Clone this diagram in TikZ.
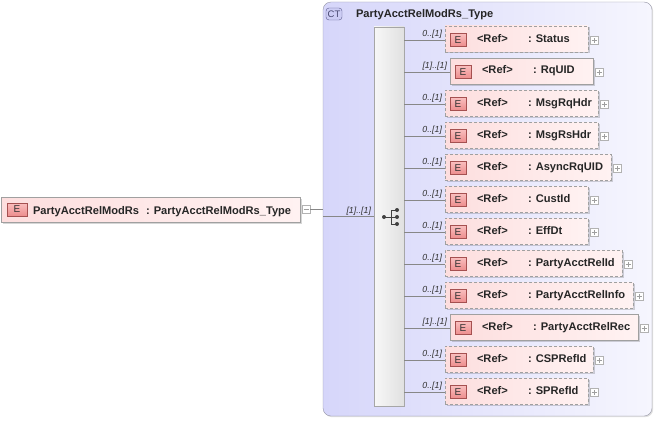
\documentclass[tikz,border=0pt]{standalone}
\usepackage{fontspec}
\setmainfont{Liberation Sans}
\usetikzlibrary{shadows}
\definecolor{ctfillL}{RGB}{214,214,250}
\definecolor{ctfillR}{RGB}{246,246,254}
\definecolor{ctborder}{RGB}{150,150,165}
\definecolor{epinkL}{RGB}{253,222,222}
\definecolor{epinkR}{RGB}{255,242,242}
\definecolor{eborder}{RGB}{160,160,160}
\definecolor{eiconT}{RGB}{250,190,190}
\definecolor{eiconB}{RGB}{236,140,140}
\definecolor{eiconborder}{RGB}{165,80,80}
\definecolor{lineclr}{RGB}{135,135,135}
\definecolor{cticonfill}{RGB}{205,205,245}
\definecolor{cticonborder}{RGB}{90,90,140}
\begin{document}
\begin{tikzpicture}[x={(1pt,0)}, y={(0,-1pt)},
  every node/.style={inner sep=0pt, outer sep=0pt},
  ebox/.style={draw=eborder, left color=epinkL, right color=epinkR,
    drop shadow={shadow xshift=1.5pt, shadow yshift=-1.5pt, fill=black, opacity=0.16}},
  optbox/.style={ebox, dash pattern=on 3pt off 2pt},
  reqbox/.style={ebox},
  eicon/.style={draw=eiconborder, top color=eiconT, bottom color=eiconB,
    font=\fontsize{10}{10}\selectfont, text=black!80},
  etxt/.style={font=\bfseries\fontsize{11.1}{12}\selectfont, text=black!85},
  lbl/.style={font=\itshape\fontsize{8.8}{9}\selectfont, text=black!80},
  conn/.style={draw=lineclr, line width=0.6pt},
  pbox/.style={draw=gray!60, fill=white, minimum size=8pt,
    path picture={\draw[gray!75, line width=0.5pt]
      ([xshift=-2.5pt]path picture bounding box.center) -- ([xshift=2.5pt]path picture bounding box.center)
      ([yshift=-2.5pt]path picture bounding box.center) -- ([yshift=2.5pt]path picture bounding box.center);}},
  mbox/.style={draw=gray!60, fill=white, minimum size=8pt,
    path picture={\draw[gray!75, line width=0.5pt]
      ([xshift=-2.5pt]path picture bounding box.center) -- ([xshift=2.5pt]path picture bounding box.center);}},
  seqbox/.style={draw=gray!70, left color=gray!6, right color=gray!24,
    drop shadow={shadow xshift=1.2pt, shadow yshift=-1.2pt, fill=black, opacity=0.12}},
  ctbox/.style={draw=ctborder, rounded corners=8pt, left color=ctfillL, right color=ctfillR,
    drop shadow={shadow xshift=1.2pt, shadow yshift=-1.2pt, fill=black, opacity=0.12}},
  cticon/.style={draw=cticonborder, fill=cticonfill, rounded corners=3pt,
    font=\fontsize{9.5}{9.5}\selectfont, text=cticonborder!80!black}
]
\useasboundingbox (0,0) rectangle (655,420);

% complex type box
\node[ctbox, minimum width=329pt, minimum height=414pt, anchor=north west] (ct) at (323,2) {};
\node[cticon, minimum width=16pt, minimum height=12pt, anchor=north west] (cti) at (326,8) {CT};
\node[etxt, anchor=base west] (ttl) at (356,18) {PartyAcctRelModRs\_Type};

% sequence compositor
\node[seqbox, minimum width=30pt, minimum height=379pt, anchor=north west] (seq) at (374,27) {};
\coordinate (sq) at (384,217);
\coordinate (sb) at (391,217);
\coordinate (s1) at (397,210);
\coordinate (s2) at (397,217);
\coordinate (s3) at (397,224);
\draw[black!75, line width=0.8pt] (sq) -- (sb) (sb |- s1) -- (sb |- s3)
  (sb |- s1) -- (s1) (sb) -- (s2) (sb |- s3) -- (s3);
\fill[black!75] (sq) circle[radius=2pt] (s1) circle[radius=2pt] (s2) circle[radius=2pt] (s3) circle[radius=2pt];

% root element
\node[reqbox, minimum width=299pt, minimum height=25pt, anchor=north west] (root) at (1,197) {};
\node[eicon, minimum width=20pt, minimum height=13pt, anchor=north west] (rei) at (7,203) {E};
\node[etxt, anchor=base west] (rn) at (33,214) {PartyAcctRelModRs};
\node[etxt, anchor=base west] (rt) at (146,214) {: PartyAcctRelModRs\_Type};
\node[mbox] (rm) at (306,209.5) {};
\coordinate (j1) at (ct.west |- rm.east);
\draw[conn] (rm.east) -- (j1);
\coordinate (j2) at (323,216);
\draw[conn] (j2) -- (seq.west |- j2);
\node[lbl, anchor=base east] (rl) at (371,213) {[1]..[1]};

% children
\foreach \nm/\rr/\rq [count=\i from 0] in {Status/588/0, RqUID/593/1, MsgRqHdr/598/0,
  MsgRsHdr/598/0, AsyncRqUID/611/0, CustId/588/0, EffDt/588/0, PartyAcctRelId/622/0,
  PartyAcctRelInfo/633/0, PartyAcctRelRec/638/1, CSPRefId/593/0, SPRefId/588/0}{
  \pgfmathsetmacro{\yy}{40+32*\i}
  \pgfmathsetmacro{\xl}{445+5*\rq}
  \pgfmathsetmacro{\ww}{\rr-\xl}
  \ifnum\rq=1
    \tikzset{cur/.style={reqbox}}\def\lb{[1]..[1]}
  \else
    \tikzset{cur/.style={optbox}}\def\lb{0..[1]}
  \fi
  \node[cur, minimum width=\ww pt, minimum height=26pt, anchor=west] (c\i) at (\xl,\yy-1) {};
  \coordinate (a\i) at (\xl,\yy);
  \draw[conn] (seq.east |- a\i) -- (a\i);
  \node[lbl, anchor=base east] (l\i) at (\xl-3,\yy-3.5) {\lb};
  \node[eicon, minimum width=16pt, minimum height=13pt, anchor=west] (e\i) at (\xl+5,\yy) {E};
  \node[etxt, anchor=base west] (r\i) at (\xl+32,\yy+2) {<Ref>};
  \node[etxt, anchor=base west] (n\i) at (\xl+83,\yy+2) {: \nm};
  \node[pbox] (p\i) at (\rr+6,\yy+0.5) {};
}
\end{tikzpicture}
\end{document}
